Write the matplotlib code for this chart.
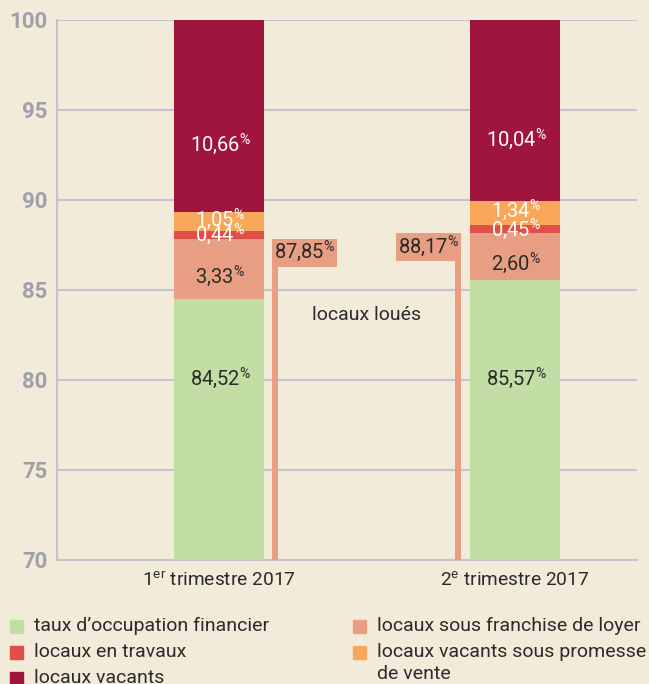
import matplotlib
matplotlib.use("Agg")
import matplotlib.pyplot as plt
from matplotlib.patches import Rectangle

FONT = ['Liberation Sans Narrow', 'Roboto', 'DejaVu Sans']
plt.rcParams['font.family'] = FONT
plt.rcParams['mathtext.fontset'] = 'custom'
plt.rcParams['mathtext.rm'] = 'Roboto'
plt.rcParams['mathtext.it'] = 'Roboto'
plt.rcParams['mathtext.bf'] = 'Roboto'

# ---- data ----
categories = ["1$^{\\mathrm{er}}$ trimestre 2017", "2$^{\\mathrm{e}}$ trimestre 2017"]
taux_occupation = [84.52, 85.57]
franchise = [3.33, 2.60]
travaux = [0.44, 0.45]
promesse = [1.05, 1.34]
vacants = [10.66, 10.04]
loues = [87.85, 88.17]
yticks = [70, 75, 80, 85, 90, 95, 100]

series_names = ["taux d\u2019occupation financier", "locaux sous franchise de loyer",
                "locaux en travaux", "locaux vacants sous promesse", "locaux vacants"]
extra_line = "de vente"

BG = '#f2ebda'
C_GREEN = '#c2dea4'
C_SALMON = '#e89e83'
C_RED = '#e0504b'
C_ORANGE = '#f8a75a'
C_CRIMSON = '#a0153d'
GRID = '#c4c4cc'
TICK = '#a0a0a8'
DARK = '#2b2b2b'

fig = plt.figure(figsize=(6.49, 6.84), dpi=100, facecolor=BG)
ax = fig.add_axes([57/649, 124/684, 580/649, 540/684])
ax.set_facecolor(BG)

x = [0, 1]
w = 0.304
series = [taux_occupation, franchise, travaux, promesse, vacants]
colors = [C_GREEN, C_SALMON, C_RED, C_ORANGE, C_CRIMSON]
txtcolors = [DARK, DARK, 'white', 'white', 'white']
label_offsets = [None, -0.4, 0.0, 0.12, -1.6]

bottoms = [0.0, 0.0]
for s, col, tc, off in zip(series, colors, txtcolors, label_offsets):
    ax.bar(x, s, width=w, bottom=bottoms, color=col, zorder=3, linewidth=0)
    for i in range(2):
        if off is None:
            ylab = 80.1
        else:
            ylab = bottoms[i] + s[i] / 2 + off
        lab = f"{s[i]:.2f}".replace('.', ',') + r"$^{\%}$"
        ax.annotate(lab, xy=(x[i], ylab), xytext=(1, 0), textcoords='offset points',
                    ha='center', va='center', fontsize=14.5, color=tc, zorder=5)
    bottoms = [b + v for b, v in zip(bottoms, s)]

# "locaux loués" brackets
line_x = [0.189, 0.809]
box_w = 0.22
box_h = 1.55
for i in range(2):
    ax.plot([line_x[i], line_x[i]], [70, loues[i]], color=C_SALMON, lw=4.3,
            solid_capstyle='butt', zorder=3)
    if i == 0:
        bx = line_x[i] - 0.01
    else:
        bx = line_x[i] + 0.01 - box_w
    ax.add_patch(Rectangle((bx, loues[i] - box_h), box_w, box_h, color=C_SALMON,
                           zorder=4, linewidth=0))
    lab = f"{loues[i]:.2f}".replace('.', ',') + r"$^{\%}$"
    ax.text(bx + box_w / 2, loues[i] - box_h / 2 + 0.05, lab, ha='center', va='center',
            fontsize=14.5, color=DARK, zorder=5)
ax.text(0.5, 83.6, "locaux lou\u00e9s", ha='center', va='center', fontsize=14,
        color=DARK, zorder=5)

ax.set_xlim(-0.547, 1.412)
ax.set_ylim(70, 100)
ax.set_yticks(yticks)
ax.set_yticklabels([str(t) for t in yticks], fontsize=16, fontweight='bold', color=TICK)
ax.set_xticks(x)
ax.set_xticklabels(categories, fontsize=13.8, color=DARK)
ax.tick_params(axis='both', length=0)
ax.tick_params(axis='y', pad=7)
ax.tick_params(axis='x', pad=8)
ax.yaxis.grid(True, color=GRID, lw=1.5, zorder=1)
for sp in ['top', 'right']:
    ax.spines[sp].set_visible(False)
for sp in ['left', 'bottom']:
    ax.spines[sp].set_color(GRID)
    ax.spines[sp].set_linewidth(1.5)

# legend (manual)
H, W = 684, 649
sq = 13
legend_items = [
    (10, 626, C_GREEN, series_names[0]),
    (10, 652, C_RED, series_names[2]),
    (10, 678, C_CRIMSON, series_names[4]),
    (353, 626, C_SALMON, series_names[1]),
    (353, 652, C_ORANGE, series_names[3]),
]
for px, py, col, name in legend_items:
    fig.patches.append(Rectangle((px / W, (H - py - sq / 2) / H), sq / W, sq / H,
                                 color=col, transform=fig.transFigure, figure=fig))
    fig.text((px + 24) / W, (H - py) / H, name, ha='left', va='center',
             fontsize=14, color=DARK)
fig.text((353 + 24) / W, (H - 674) / H, extra_line, ha='left', va='center',
         fontsize=14, color=DARK)

fig.savefig("out.png", dpi=100, facecolor=BG)
